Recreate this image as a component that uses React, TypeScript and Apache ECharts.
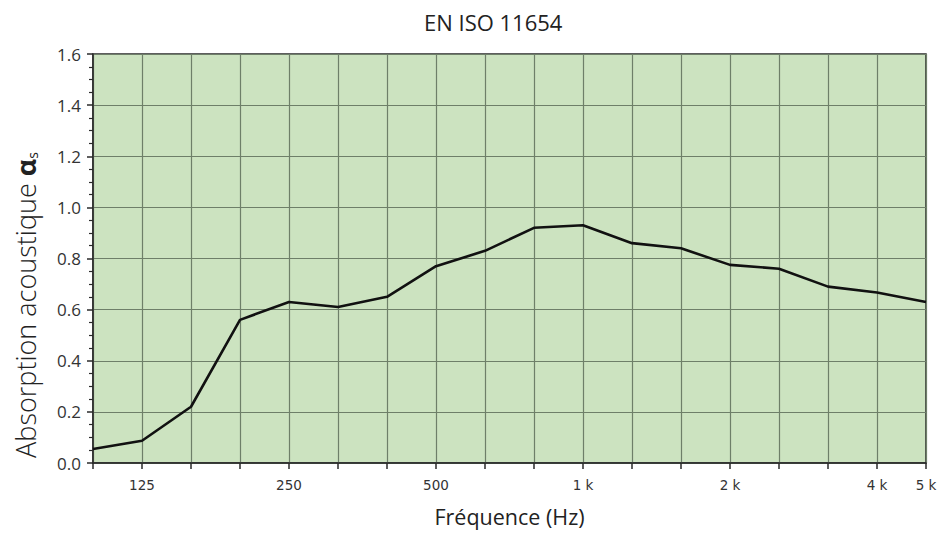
import React, { useEffect, useRef } from "react";
import * as echarts from "echarts";

const frequencies = ["100", "125", "160", "200", "250", "315", "400", "500", "630", "800", "1 k", "1.25 k", "1.6 k", "2 k", "2.5 k", "3.15 k", "4 k", "5 k"];
const shownLabels = ["125", "250", "500", "1 k", "2 k", "4 k", "5 k"];
const absorption = [0.055, 0.087, 0.22, 0.56, 0.63, 0.61, 0.65, 0.77, 0.83, 0.92, 0.93, 0.86, 0.84, 0.775, 0.76, 0.69, 0.667, 0.63];
const yAxisTitle = "Absorption acoustique ";

export default function App() {
  const ref = useRef<HTMLDivElement>(null);
  useEffect(() => {
    if (!ref.current) return;
    const chart = echarts.init(ref.current, null, { renderer: "svg" });
    chart.setOption({
      animation: false,
      title: {
        text: "EN ISO 11654",
        left: 419,
        top: 6,
        textStyle: { fontFamily: "Open Sans", fontSize: 22, fontWeight: "normal", color: "#222" },
      },
      graphic: [
        {
          type: "text",
          x: 25,
          y: 305,
          rotation: Math.PI / 2,
          style: {
            text: yAxisTitle + "{a|α}{s|s}",
            align: "center",
            verticalAlign: "middle",
            fontFamily: "Open Sans",
            fontSize: 27,
            fontWeight: 300,
            fill: "#222",
            rich: {
              a: { fontFamily: "Open Sans", fontSize: 27, fontWeight: "bold", fill: "#222" },
              s: { fontFamily: "Open Sans", fontSize: 14, fill: "#222", verticalAlign: "bottom", padding: [14, 0, 0, 0] },
            },
          },
        },
      ],
      grid: {
        left: 93,
        right: 15,
        top: 54,
        bottom: 78,
        show: true,
        backgroundColor: "#cce3c0",
        borderColor: "#2a2a2a",
        borderWidth: 1.5,
      },
      xAxis: {
        type: "category",
        data: frequencies,
        boundaryGap: false,
        name: "Fréquence (Hz)",
        nameLocation: "middle",
        nameGap: 42,
        nameTextStyle: { fontFamily: "Open Sans", fontSize: 21.5, color: "#222" },
        axisLine: { show: true, lineStyle: { color: "#2a2a2a", width: 1.5 } },
        axisTick: { show: true, inside: false, length: 6, interval: 0, lineStyle: { color: "#2a2a2a", width: 1.5 } },
        axisLabel: {
          interval: (i: number, v: string) => shownLabels.includes(v),
          margin: 15,
          fontFamily: "DejaVu Sans",
          fontSize: 13.5,
          color: "#333",
        },
        splitLine: { show: true, interval: 0, lineStyle: { color: "#6e7f69", width: 1.2 } },
      },
      yAxis: {
        type: "value",
        min: 0,
        max: 1.6,
        interval: 0.2,
        axisLine: { show: true, lineStyle: { color: "#2a2a2a", width: 1.5 } },
        axisTick: { show: true, inside: false, length: 6, lineStyle: { color: "#2a2a2a", width: 1.5 } },
        minorTick: { show: true, splitNumber: 4, length: 4, lineStyle: { color: "#2a2a2a", width: 1.2 } },
        axisLabel: {
          margin: 12,
          formatter: (v: number) => v.toFixed(1),
          fontFamily: "Open Sans",
          fontSize: 17,
          color: "#333",
        },
        splitLine: { show: true, lineStyle: { color: "#6e7f69", width: 1.2 } },
      },
      series: [
        {
          type: "line",
          data: absorption,
          showSymbol: false,
          symbol: "none",
          lineStyle: { color: "#111", width: 2.6 },
        },
      ],
    });
    return () => chart.dispose();
  }, []);
  return <div ref={ref} style={{ position: "fixed", left: 0, top: 0, width: 941, height: 541, background: "#fff" }} />;
}
